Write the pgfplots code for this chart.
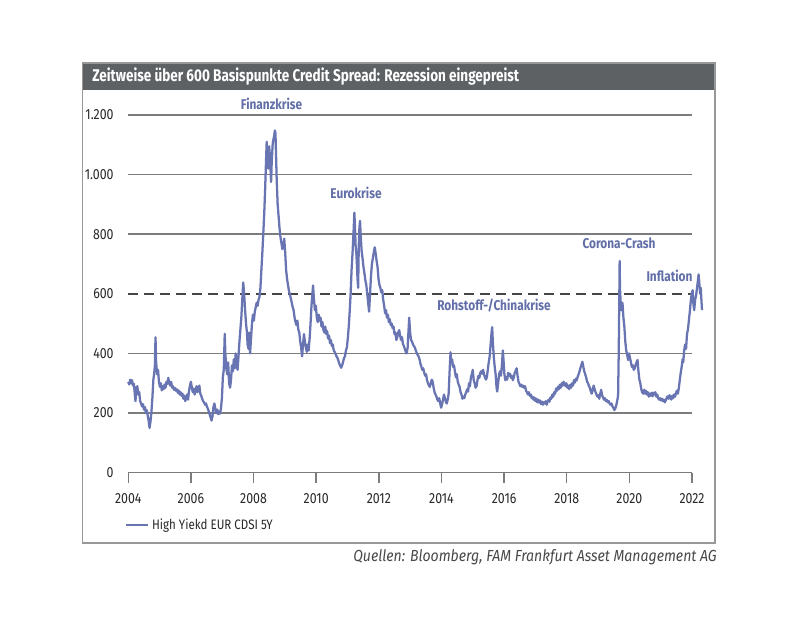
\documentclass[border=0pt]{standalone}
\usepackage{pgfplots}
\pgfplotsset{compat=1.18}
\usepackage{fontspec}
\setmainfont{Fira Sans}
\newfontfamily\cond{Fira Sans}[FakeStretch=0.84]
\newfontfamily\condt{Fira Sans}[FakeStretch=0.80]
\newfontfamily\srcfont{Fira Sans}[FakeStretch=0.88]

\definecolor{hyblue}{RGB}{104,117,178}
\definecolor{annot}{RGB}{98,110,168}
\definecolor{gridgray}{RGB}{122,124,126}
\definecolor{dashgray}{RGB}{68,70,72}
\definecolor{titlebar}{RGB}{94,97,100}
\definecolor{framegray}{RGB}{150,152,154}
\definecolor{txt}{RGB}{40,40,40}

\begin{document}
\begin{tikzpicture}
% page: 800 x 634 px, 1 px = 0.75pt
\path[use as bounding box] (0,0) rectangle (600pt,475.5pt);

\begin{axis}[
    at={(96.2pt,121pt)}, anchor=south west,
    scale only axis,
    width=422.8pt, height=268.3pt,
    xmin=2004, xmax=2022,
    ymin=0, ymax=1200,
    clip=false,
    axis x line=bottom, axis y line=left,
    axis line style={-},
    x axis line style={draw=gridgray, line width=1.1pt},
    y axis line style={draw=none},
    xtick={2004,2006,...,2022},
    xticklabels={2004,2006,2008,2010,2012,2014,2016,2018,2020,2022},
    ytick={0,200,400,800,1000,1200},
    yticklabels={0,200,400,800,1.000,1.200},
    extra y ticks={600},
    extra y tick labels={600},
    extra y tick style={grid=major, major grid style={dash pattern=on 7.5pt off 4.5pt, draw=dashgray, line width=1.3pt}},
    ymajorgrids=true,
    major grid style={draw=gridgray, line width=1.05pt},
    tick align=outside,
    x tick style={draw=gridgray, line width=1.1pt},
    major tick length=7.5pt,
    ytick style={draw=none},
    xticklabel style={font=\cond\fontsize{11}{13}\selectfont, text=txt, yshift=-4.5pt},
    yticklabel style={font=\cond\fontsize{11}{13}\selectfont, text=txt, anchor=east, xshift=0pt},
    legend style={at={(rel axis cs:-0.006,-0.146)}, anchor=west, draw=none, fill=none,
        inner sep=0pt, font=\cond\fontsize{10.3}{12}\selectfont, text=txt},
    legend image code/.code={\draw[#1] (0pt,0pt) -- (16.5pt,0pt);},
]
\addplot[hyblue, line width=1.7pt, line join=round] coordinates {
(2004.00,304)(2004.03,296)(2004.06,312)(2004.09,300)(2004.12,310)(2004.15,292)(2004.18,298)(2004.21,262)(2004.23,240)(2004.26,285)
(2004.29,290)(2004.32,262)(2004.35,270)(2004.38,240)(2004.41,232)(2004.44,222)(2004.47,230)(2004.50,212)(2004.53,220)(2004.56,200)
(2004.59,210)(2004.62,192)(2004.65,175)(2004.68,150)(2004.71,172)(2004.74,205)(2004.77,250)(2004.80,310)(2004.83,335)(2004.85,360)
(2004.87,454)(2004.89,370)(2004.92,330)(2004.95,345)(2004.98,305)
(2005.01,288)(2005.04,300)(2005.07,276)(2005.10,290)(2005.13,280)(2005.16,296)(2005.19,285)(2005.22,305)(2005.25,298)(2005.28,318)
(2005.31,300)(2005.34,292)(2005.37,305)(2005.40,285)(2005.43,290)(2005.46,278)(2005.49,284)(2005.52,275)(2005.55,280)(2005.58,268)
(2005.61,276)(2005.64,262)(2005.67,270)(2005.70,258)(2005.73,265)(2005.76,248)(2005.79,258)(2005.82,240)(2005.85,250)(2005.88,262)
(2005.91,245)(2005.94,275)(2005.97,292)(2006.00,305)(2006.03,285)(2006.06,270)(2006.09,282)(2006.12,262)(2006.15,275)(2006.18,290)
(2006.21,270)(2006.24,285)(2006.27,292)(2006.30,265)(2006.33,258)(2006.36,248)(2006.39,240)(2006.42,236)(2006.45,228)(2006.48,232)
(2006.51,222)(2006.54,215)(2006.57,206)(2006.60,195)(2006.63,185)(2006.66,175)(2006.69,190)(2006.72,220)(2006.75,232)(2006.78,215)
(2006.81,200)(2006.84,212)(2006.87,196)(2006.90,205)(2006.93,198)(2006.96,215)(2006.99,250)
(2007.02,320)(2007.05,345)(2007.08,466)(2007.10,400)(2007.13,350)(2007.16,330)(2007.19,370)(2007.22,300)(2007.25,285)(2007.28,310)
(2007.31,360)(2007.34,340)(2007.37,380)(2007.40,350)(2007.43,400)(2007.46,365)(2007.49,345)(2007.52,390)(2007.55,440)(2007.58,480)
(2007.61,520)(2007.64,580)(2007.67,638)(2007.70,600)(2007.73,545)(2007.76,500)(2007.79,470)(2007.81,430)(2007.84,415)(2007.86,470)
(2007.89,400)(2007.92,450)(2007.95,500)(2007.98,530)
(2008.01,510)(2008.04,540)(2008.07,555)(2008.10,570)(2008.13,560)(2008.16,580)(2008.19,590)(2008.22,620)(2008.25,680)(2008.28,735)
(2008.31,800)(2008.34,866)(2008.37,950)(2008.40,1050)(2008.42,1110)(2008.44,1060)(2008.47,1020)(2008.50,1095)(2008.53,1050)(2008.56,975)
(2008.58,1040)(2008.61,1100)(2008.63,1115)(2008.66,1130)(2008.68,1148)(2008.70,1140)(2008.72,1060)(2008.74,980)(2008.77,900)(2008.80,860)
(2008.83,820)(2008.86,790)(2008.89,770)(2008.92,750)(2008.95,760)(2008.98,785)
(2009.01,740)(2009.04,680)(2009.07,650)(2009.10,630)(2009.13,610)(2009.16,598)(2009.19,585)(2009.22,570)(2009.25,555)(2009.28,545)
(2009.31,520)(2009.34,505)(2009.37,495)(2009.40,510)(2009.43,480)(2009.46,470)(2009.49,440)(2009.52,420)(2009.55,390)(2009.58,430)
(2009.61,465)(2009.64,440)(2009.67,420)(2009.70,405)(2009.73,430)(2009.76,410)(2009.79,450)(2009.82,500)(2009.85,560)(2009.88,600)
(2009.90,628)(2009.93,580)(2009.96,545)(2009.99,560)
(2010.02,520)(2010.05,505)(2010.08,530)(2010.11,510)(2010.14,520)(2010.17,490)(2010.20,505)(2010.23,480)(2010.26,470)(2010.29,490)
(2010.32,465)(2010.35,475)(2010.38,450)(2010.41,460)(2010.44,435)(2010.47,445)(2010.50,425)(2010.53,430)(2010.56,410)(2010.59,405)
(2010.62,398)(2010.65,390)(2010.68,385)(2010.71,375)(2010.74,365)(2010.77,358)(2010.80,352)(2010.83,360)(2010.86,372)(2010.89,385)
(2010.92,390)(2010.95,410)(2010.98,420)
(2011.01,450)(2011.04,490)(2011.07,540)(2011.10,600)(2011.13,680)(2011.16,735)(2011.19,800)(2011.22,872)(2011.24,820)(2011.26,760)
(2011.28,740)(2011.30,700)(2011.32,650)(2011.34,620)(2011.36,760)(2011.38,820)(2011.40,845)(2011.42,800)(2011.45,745)(2011.48,720)
(2011.51,690)(2011.54,670)(2011.57,645)(2011.60,630)(2011.63,600)(2011.66,570)(2011.69,540)(2011.72,600)(2011.75,660)(2011.78,700)
(2011.81,720)(2011.84,740)(2011.87,756)(2011.90,735)(2011.93,710)(2011.96,690)(2011.99,650)
(2012.02,630)(2012.05,620)(2012.08,605)(2012.11,612)(2012.14,580)(2012.17,560)(2012.20,535)(2012.23,545)(2012.26,520)(2012.29,530)
(2012.32,505)(2012.35,515)(2012.38,495)(2012.41,500)(2012.44,485)(2012.47,490)(2012.50,465)(2012.53,470)(2012.56,445)(2012.59,455)
(2012.62,470)(2012.65,478)(2012.68,460)(2012.71,445)(2012.74,455)(2012.77,432)(2012.80,425)(2012.83,415)(2012.86,405)(2012.89,400)
(2012.92,420)(2012.95,480)(2012.97,520)
(2013.00,470)(2013.03,445)(2013.06,440)(2013.09,430)(2013.12,425)(2013.15,420)(2013.18,410)(2013.21,402)(2013.24,395)(2013.27,390)
(2013.30,380)(2013.33,365)(2013.36,355)(2013.39,345)(2013.42,350)(2013.45,335)(2013.48,325)(2013.51,330)(2013.54,310)(2013.57,300)
(2013.60,292)(2013.63,288)(2013.66,300)(2013.69,312)(2013.72,305)(2013.75,285)(2013.78,270)(2013.81,262)(2013.84,255)(2013.87,245)
(2013.90,240)(2013.93,250)(2013.96,232)(2013.99,218)
(2014.02,230)(2014.05,245)(2014.08,262)(2014.11,250)(2014.14,238)(2014.17,232)(2014.20,245)(2014.23,265)(2014.26,340)(2014.29,404)
(2014.31,370)(2014.34,380)(2014.37,355)(2014.40,360)(2014.43,340)(2014.46,320)(2014.49,330)(2014.52,305)(2014.55,295)(2014.58,288)
(2014.61,270)(2014.64,262)(2014.67,248)(2014.70,255)(2014.73,250)(2014.76,262)(2014.79,270)(2014.82,280)(2014.85,272)(2014.88,300)
(2014.91,290)(2014.94,320)(2014.97,330)
(2015.00,345)(2015.03,310)(2015.06,300)(2015.09,285)(2015.12,290)(2015.15,310)(2015.18,325)(2015.21,318)(2015.24,335)(2015.27,340)
(2015.30,332)(2015.33,345)(2015.36,330)(2015.39,320)(2015.42,312)(2015.45,320)(2015.48,345)(2015.51,370)(2015.54,390)(2015.57,430)
(2015.60,470)(2015.62,488)(2015.64,440)(2015.67,390)(2015.70,355)(2015.73,330)(2015.76,285)(2015.78,272)(2015.81,300)(2015.84,330)
(2015.87,340)(2015.90,325)(2015.93,360)(2015.96,410)(2015.98,380)
(2016.01,330)(2016.04,310)(2016.07,320)(2016.10,312)(2016.13,335)(2016.16,325)(2016.19,332)(2016.22,318)(2016.25,325)(2016.28,310)
(2016.31,320)(2016.34,335)(2016.37,342)(2016.40,350)(2016.43,325)(2016.46,305)(2016.49,298)(2016.52,290)(2016.55,295)(2016.58,288)
(2016.61,292)(2016.64,285)(2016.67,290)(2016.70,275)(2016.73,270)(2016.76,262)(2016.79,270)(2016.82,258)(2016.85,262)(2016.88,250)
(2016.91,255)(2016.94,245)(2016.97,252)
(2017.00,240)(2017.03,248)(2017.06,236)(2017.09,245)(2017.12,235)(2017.15,242)(2017.18,230)(2017.21,238)(2017.24,228)(2017.27,236)
(2017.30,232)(2017.33,240)(2017.36,228)(2017.39,238)(2017.42,245)(2017.45,238)(2017.48,252)(2017.51,248)(2017.54,262)(2017.57,255)
(2017.60,270)(2017.63,265)(2017.66,282)(2017.69,275)(2017.72,288)(2017.75,280)(2017.78,295)(2017.81,285)(2017.84,300)(2017.87,292)
(2017.90,305)(2017.93,298)(2017.96,290)(2017.99,300)
(2018.02,285)(2018.05,292)(2018.08,280)(2018.11,295)(2018.14,285)(2018.17,300)(2018.20,292)(2018.23,310)(2018.26,302)(2018.29,315)
(2018.32,310)(2018.35,322)(2018.38,330)(2018.41,340)(2018.44,352)(2018.47,362)(2018.50,372)(2018.53,355)(2018.56,340)(2018.59,330)
(2018.62,320)(2018.65,305)(2018.68,300)(2018.71,290)(2018.74,285)(2018.77,272)(2018.80,265)(2018.83,278)(2018.86,292)(2018.89,280)
(2018.92,270)(2018.95,262)(2018.98,255)
(2019.01,260)(2019.04,248)(2019.07,265)(2019.10,278)(2019.13,260)(2019.16,252)(2019.19,245)(2019.22,250)(2019.25,240)(2019.28,244)
(2019.31,236)(2019.34,240)(2019.37,232)(2019.40,228)(2019.43,232)(2019.46,222)(2019.49,218)(2019.52,210)(2019.55,215)(2019.58,225)
(2019.61,240)(2019.64,258)(2019.66,400)(2019.68,600)(2019.69,710)(2019.70,620)(2019.72,575)(2019.74,545)(2019.76,560)(2019.78,570)
(2019.81,520)(2019.84,490)(2019.87,440)(2019.90,410)(2019.93,395)(2019.96,378)(2019.99,400)
(2020.02,385)(2020.05,370)(2020.08,355)(2020.11,360)(2020.14,345)(2020.17,350)(2020.20,362)(2020.23,370)(2020.26,378)(2020.29,340)
(2020.32,312)(2020.35,300)(2020.38,280)(2020.41,270)(2020.44,265)(2020.47,278)(2020.50,265)(2020.53,275)(2020.56,262)(2020.59,270)
(2020.62,255)(2020.65,265)(2020.68,258)(2020.71,268)(2020.74,256)(2020.77,268)(2020.80,262)(2020.83,270)(2020.86,255)(2020.89,262)
(2020.92,250)(2020.95,245)(2020.98,250)
(2021.01,242)(2021.04,248)(2021.07,240)(2021.10,245)(2021.13,236)(2021.16,242)(2021.19,250)(2021.22,256)(2021.25,248)(2021.28,260)
(2021.31,252)(2021.34,245)(2021.37,258)(2021.40,250)(2021.43,262)(2021.46,255)(2021.49,268)(2021.52,275)(2021.55,265)(2021.58,285)
(2021.61,310)(2021.64,335)(2021.67,355)(2021.70,380)(2021.72,370)(2021.75,410)(2021.78,430)(2021.81,415)(2021.84,465)(2021.87,480)
(2021.90,510)(2021.93,540)(2021.96,575)(2021.99,600)
(2022.02,612)(2022.04,570)(2022.07,545)(2022.10,580)(2022.13,595)(2022.16,620)(2022.19,645)(2022.21,665)(2022.23,640)(2022.26,600)
(2022.28,620)(2022.30,580)(2022.32,545)
};
\addlegendentry{High Yiekd EUR CDSI 5Y}
\end{axis}

\begin{scope}[x=0.75pt, y=-0.75pt, shift={(0pt,475.5pt)}]
  % frame and title bar
  \fill[titlebar] (82.5,63) rectangle (715,90.5);
  \draw[framegray, line width=0.8pt] (82.5,63) rectangle (715,543);
  \node[anchor=west, text=white, font=\condt\bfseries\fontsize{12.7}{14}\selectfont, inner sep=0pt]
    at (92,76.5) {Zeitweise über 600 Basispunkte Credit Spread: Rezession eingepreist};
  % annotations
  \begin{scope}[every node/.style={text=annot, font=\cond\bfseries\fontsize{10.6}{12}\selectfont, inner sep=0pt}]
    \node at (271.5,104) {Finanzkrise};
    \node at (356,193) {Eurokrise};
    \node at (494,306) {Rohstoff-/Chinakrise};
    \node at (619,243.5) {Corona-Crash};
    \node at (669.5,276) {Inflation};
  \end{scope}
  % source
  \node[anchor=east, text=txt!85, font=\srcfont\itshape\fontsize{12}{14}\selectfont, inner sep=0pt]
    at (717,557) {Quellen: Bloomberg, FAM Frankfurt Asset Management AG};
\end{scope}
\end{tikzpicture}
\end{document}
